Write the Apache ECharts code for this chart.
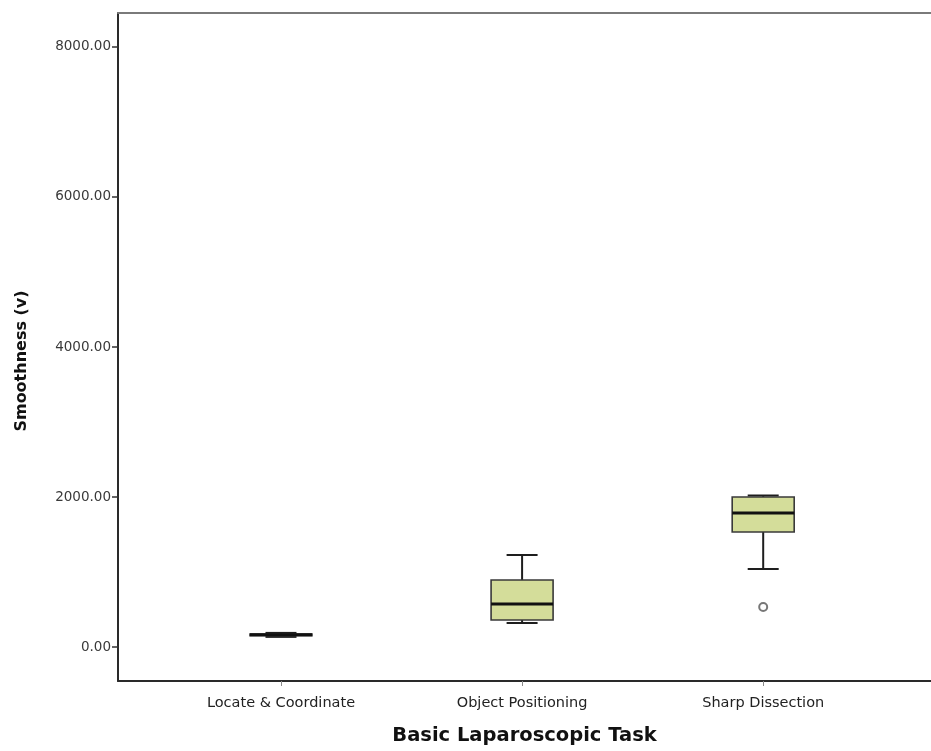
<!DOCTYPE html>
<html>
<head>
<meta charset="utf-8">
<script src="https://cdn.jsdelivr.net/npm/echarts@6/dist/echarts.min.js"></script>
<style>
  html, body { margin: 0; padding: 0; background: #ffffff; }
  #chart { width: 931px; height: 751px; }
</style>
</head>
<body>
<div id="chart"></div>
<script>
// Smoothness per basic laparoscopic task (box-and-whisker summary)
const categories = ['Locate & Coordinate', 'Object Positioning', 'Sharp Dissection'];
const whiskerLow  = [135, 320, 1040];
const quartile1   = [150, 360, 1533];
const medians     = [162, 573, 1787];
const quartile3   = [172, 893, 2000];
const whiskerHigh = [188, 1227, 2020];
const outliers    = [[2, 533]];          // [category index, value]
const yTicks      = [0, 2000, 4000, 6000, 8000];

const boxData = categories.map((c, i) => [i, whiskerLow[i], quartile1[i], medians[i], quartile3[i], whiskerHigh[i]]);

const chart = echarts.init(document.getElementById('chart'), null, { renderer: 'canvas' });

const BOX_W = 62;
const CAP_W = 31;

function renderBox(params, api) {
  const x = api.value(0);
  const pLow = api.coord([x, api.value(1)]);
  const pQ1 = api.coord([x, api.value(2)]);
  const pMed = api.coord([x, api.value(3)]);
  const pQ3 = api.coord([x, api.value(4)]);
  const pHigh = api.coord([x, api.value(5)]);
  const cx = pMed[0];
  const lineStyle = { stroke: '#1e1e1e', lineWidth: 2 };
  return {
    type: 'group',
    children: [
      { type: 'line', shape: { x1: cx, y1: pHigh[1], x2: cx, y2: pQ3[1] }, style: lineStyle },
      { type: 'line', shape: { x1: cx, y1: pLow[1], x2: cx, y2: pQ1[1] }, style: lineStyle },
      { type: 'line', shape: { x1: cx - CAP_W / 2, y1: pHigh[1], x2: cx + CAP_W / 2, y2: pHigh[1] }, style: lineStyle },
      { type: 'line', shape: { x1: cx - CAP_W / 2, y1: pLow[1], x2: cx + CAP_W / 2, y2: pLow[1] }, style: lineStyle },
      {
        type: 'rect',
        shape: { x: cx - BOX_W / 2, y: pQ3[1], width: BOX_W, height: pQ1[1] - pQ3[1] },
        style: { fill: '#d4dd9a', stroke: '#3a3a3a', lineWidth: 1.6 }
      },
      { type: 'line', shape: { x1: cx - BOX_W / 2, y1: pMed[1], x2: cx + BOX_W / 2, y2: pMed[1] }, style: { stroke: '#111111', lineWidth: 3 } }
    ]
  };
}

const option = {
  backgroundColor: '#ffffff',
  animation: false,
  grid: { left: 118, top: 13, right: -20, bottom: 70, containLabel: false },
  xAxis: [
    {
      type: 'value',
      min: -0.676,
      max: 2.696,
      position: 'bottom',
      name: 'Basic Laparoscopic Task',
      nameLocation: 'middle',
      nameGap: 45,
      nameTextStyle: { fontFamily: 'DejaVu Sans', fontWeight: 'bold', fontSize: 19.5, color: '#111' },
      axisLine: { show: true, onZero: false, lineStyle: { color: '#2a2a2a', width: 2 } },
      axisTick: { show: true, customValues: [0, 1, 2], length: 5, lineStyle: { color: '#888', width: 1 } },
      axisLabel: {
        customValues: [0, 1, 2],
        formatter: v => categories[Math.round(v)],
        fontFamily: 'DejaVu Sans', fontSize: 14.5, color: '#222', margin: 15
      },
      splitLine: { show: false }
    },
    {
      type: 'value',
      min: -0.676,
      max: 2.696,
      position: 'top',
      axisLine: { show: true, onZero: false, lineStyle: { color: '#7a7a7a', width: 2 } },
      axisTick: { show: false },
      axisLabel: { show: false },
      splitLine: { show: false }
    }
  ],
  yAxis: {
    type: 'value',
    min: -453.3,
    max: 8453.3,
    axisLine: { show: true, onZero: false, lineStyle: { color: '#2a2a2a', width: 2 } },
    axisTick: { show: true, customValues: yTicks, length: 6, lineStyle: { color: '#333', width: 1.5 } },
    axisLabel: {
      customValues: yTicks,
      formatter: v => v.toFixed(2),
      fontFamily: 'DejaVu Sans', fontSize: 13.5, color: '#3a3a3a', margin: 7
    },
    splitLine: { show: false }
  },
  graphic: [
    {
      type: 'text',
      x: 22,
      y: 361,
      rotation: Math.PI / 2,
      style: {
        text: 'Smoothness (v)',
        fontFamily: 'DejaVu Sans',
        fontWeight: 'bold',
        fontSize: 16,
        fill: '#111',
        align: 'center',
        verticalAlign: 'middle'
      }
    }
  ],
  series: [
    {
      type: 'custom',
      renderItem: renderBox,
      encode: { x: 0, y: [1, 2, 3, 4, 5] },
      data: boxData,
      z: 3
    },
    {
      type: 'scatter',
      data: outliers,
      symbol: 'emptyCircle',
      symbolSize: 8,
      itemStyle: { color: '#555', borderColor: '#555', borderWidth: 1.5 },
      z: 4
    }
  ]
};

chart.setOption(option);
</script>
</body>
</html>
